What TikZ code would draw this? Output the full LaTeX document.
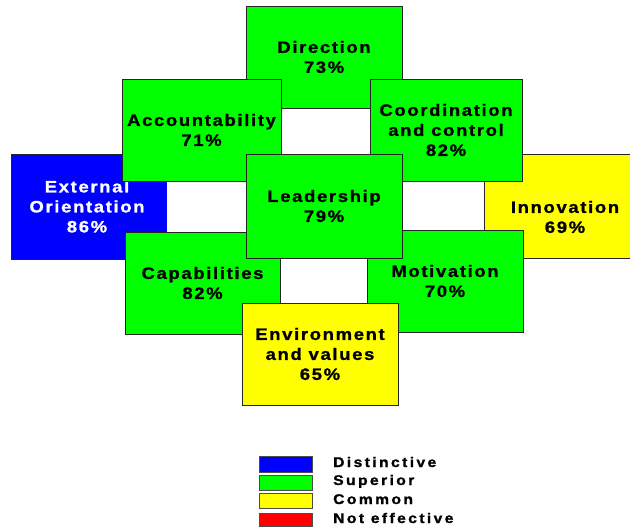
\documentclass[tikz,border=0pt]{standalone}
\usepackage{fontspec}
\newfontfamily\boxfont[FakeStretch=1.12,LetterSpace=10,FakeBold=1.2]{Liberation Sans}
\newfontfamily\legfont[FakeStretch=1.12,LetterSpace=17,FakeBold=1.2]{Liberation Sans}
\definecolor{cblue}{RGB}{0,0,255}
\definecolor{cgreen}{RGB}{0,255,0}
\definecolor{cyellow}{RGB}{255,255,0}
\definecolor{cred}{RGB}{255,0,0}
\begin{document}
\begin{tikzpicture}[x=1pt,y=-1pt,
  box/.style={draw=black!85,line width=0.8pt,inner sep=0pt,align=center,
    font=\boxfont\bfseries\fontsize{16.5}{20}\selectfont},
  boxtext/.style={inner sep=0pt,align=center,
    font=\boxfont\bfseries\fontsize{16.5}{20}\selectfont},
  swatch/.style={draw=black!70,line width=0.8pt,inner sep=0pt,minimum width=53pt},
  legtext/.style={inner sep=0pt,anchor=base west,
    font=\legfont\bfseries\fontsize{14}{16}\selectfont}]
\useasboundingbox (0,0) rectangle (630,528);
\fill[white] (0,0) rectangle (630,528);
% boxes, back to front
\node[box,fill=cblue,text=white,minimum width=152pt,minimum height=105pt] (external) at (87,206.5) {External\\Orientation\\86\%};
\fill[cblue] (163,181) rectangle (167,232);
\node[box,fill=cyellow,minimum width=156pt,minimum height=104pt] (innovation) at (562,206) {};
\node[boxtext] (innovationtext) at (565,217) {Innovation\\69\%};
\node[box,fill=cgreen,minimum width=156pt,minimum height=102pt] (direction) at (324,57) {Direction\\73\%};
\node[box,fill=cgreen,minimum width=159pt,minimum height=102pt] (accountability) at (201.5,130) {Accountability\\71\%};
\node[box,fill=cgreen,minimum width=152pt,minimum height=102pt] (coordination) at (446,130) {Coordination\\ and control\\82\%};
\node[box,fill=cgreen,minimum width=155pt,minimum height=102pt] (capabilities) at (202.5,283) {Capabilities\\82\%};
\node[box,fill=cgreen,minimum width=156pt,minimum height=102pt] (motivation) at (445,281) {Motivation\\70\%};
\node[box,fill=cgreen,minimum width=156pt,minimum height=104pt] (leadership) at (324,206) {Leadership\\79\%};
\node[box,fill=cyellow,minimum width=156pt,minimum height=102pt] (environment) at (320,354) {Environment\\and values\\65\%};
% legend
\node[swatch,fill=cblue,minimum height=16pt] (sw1) at (285.5,464) {};
\node[swatch,fill=cgreen,minimum height=15pt] (sw2) at (285.5,482.5) {};
\node[swatch,fill=cyellow,minimum height=15pt] (sw3) at (285.5,500.5) {};
\node[swatch,fill=cred,minimum height=13pt] (sw4) at (285.5,519.5) {};
\node[legtext] (l1) at (333,467) {Distinctive};
\node[legtext] (l2) at (333,485) {Superior};
\node[legtext] (l3) at (333,504) {Common};
\node[legtext] (l4) at (333,523) {Not effective};
\end{tikzpicture}
\end{document}
